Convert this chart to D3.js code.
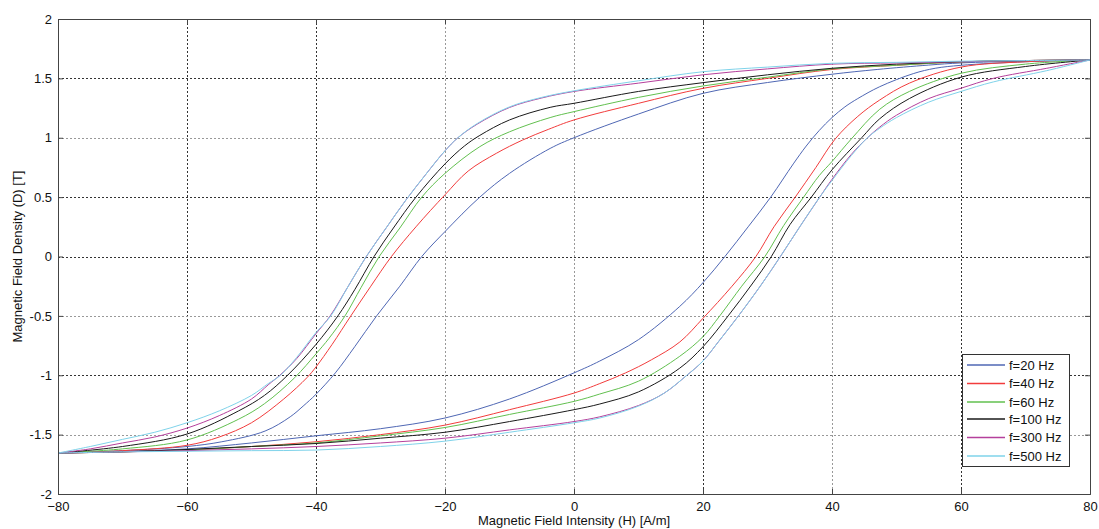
<!DOCTYPE html>
<html>
<head>
<meta charset="utf-8">
<script src="https://cdn.jsdelivr.net/npm/d3@7"></script>
<style>
  body { margin: 0; background: #fff; }
  svg { display: block; font-family: "Liberation Sans", Arial, sans-serif; }
</style>
</head>
<body>
<svg id="chart" width="1099" height="529"></svg>
<script>
// ---- Data ----
const seriesNames = ["f=20 Hz", "f=40 Hz", "f=60 Hz", "f=100 Hz", "f=300 Hz", "f=500 Hz"];
const xTicks = [-80, -60, -40, -20, 0, 20, 40, 60, 80];
const yTicks = [-2, -1.5, -1, -0.5, 0, 0.5, 1, 1.5, 2];

// upper (descending-field) branches, [H, B]
const upper20 = [[80,1.655],[70,1.645],[60,1.63],[55,1.612],[47,1.575],[40,1.535],[30,1.465],[20,1.374],[10,1.2],[0,1.0],[-3.7,0.91],[-10,0.7],[-14.6,0.5],[-20,0.21],[-23.6,0.0],[-27,-0.25],[-30.6,-0.5],[-34,-0.76],[-37,-0.98],[-40,-1.16],[-42,-1.26],[-44,-1.35],[-47.9,-1.47],[-54.6,-1.56],[-60,-1.6],[-70,-1.635],[-80,-1.655]];
const upper40 = [[80,1.655],[70,1.65],[60,1.64],[50,1.61],[40,1.575],[30,1.5],[20,1.416],[10,1.29],[0,1.15],[-4,1.07],[-8,0.98],[-12,0.87],[-16.4,0.72],[-20,0.52],[-24.5,0.25],[-28.3,0.0],[-31.5,-0.25],[-34.6,-0.5],[-37.5,-0.74],[-40,-0.93],[-41.4,-1.02],[-45,-1.2],[-50,-1.4],[-55,-1.52],[-60,-1.59],[-70,-1.635],[-80,-1.655]];
const upper60 = [[80,1.655],[70,1.65],[60,1.64],[50,1.61],[40,1.58],[30,1.51],[20,1.436],[10,1.34],[0,1.22],[-3.7,1.17],[-10,1.05],[-14.6,0.925],[-20,0.70],[-23.6,0.5],[-27,0.24],[-30.2,0.0],[-33,-0.26],[-35.5,-0.5],[-38,-0.69],[-40,-0.82],[-43.3,-1.02],[-48,-1.24],[-52,-1.37],[-60,-1.545],[-70,-1.62],[-80,-1.655]];
const upper100 = [[80,1.655],[70,1.65],[60,1.64],[50,1.62],[40,1.585],[30,1.53],[20,1.464],[10,1.39],[0,1.29],[-3.7,1.256],[-10,1.15],[-14.6,1.02],[-17,0.93],[-20,0.78],[-24.5,0.5],[-28,0.24],[-31,0.0],[-34,-0.28],[-36.6,-0.5],[-40,-0.74],[-44.4,-1.0],[-48,-1.17],[-52,-1.3],[-60,-1.495],[-70,-1.6],[-80,-1.655]];
const upper300 = [[80,1.655],[70,1.65],[60,1.64],[50,1.63],[40,1.62],[30,1.58],[20,1.53],[10,1.46],[0,1.39],[-5,1.335],[-10,1.255],[-15,1.115],[-18,1.0],[-20,0.89],[-23,0.69],[-26,0.48],[-29,0.25],[-32.2,0.0],[-35,-0.25],[-37.8,-0.5],[-40,-0.65],[-43,-0.86],[-45.6,-1.0],[-47.4,-1.08],[-50,-1.2],[-55,-1.34],[-60,-1.445],[-65,-1.52],[-70,-1.57],[-75,-1.62],[-80,-1.655]];
const upper500 = [[80,1.655],[70,1.65],[60,1.645],[50,1.635],[40,1.627],[30,1.595],[20,1.556],[10,1.48],[0,1.395],[-5,1.34],[-10,1.26],[-15,1.12],[-18,1.0],[-20,0.89],[-23,0.69],[-26,0.48],[-29,0.25],[-32.2,0.0],[-35,-0.25],[-37.7,-0.5],[-40,-0.64],[-43,-0.85],[-45.5,-1.0],[-47.4,-1.07],[-50,-1.17],[-55,-1.3],[-60,-1.4],[-65,-1.48],[-70,-1.54],[-75,-1.6],[-80,-1.655]];

// lower (ascending-field) branches, [H, B]
const lower20 = [[-80,-1.655],[-70,-1.64],[-60,-1.62],[-50,-1.57],[-40,-1.51],[-30,-1.45],[-20,-1.36],[-10,-1.2],[0,-0.98],[4,-0.88],[10,-0.7],[16.4,-0.42],[20,-0.22],[23.4,0.0],[27,0.25],[30.5,0.5],[34,0.78],[36,0.93],[38,1.06],[40,1.17],[42,1.26],[44,1.33],[47.4,1.43],[52.6,1.54],[56,1.585],[60,1.61],[70,1.64],[80,1.655]];
const lower40 = [[-80,-1.655],[-70,-1.645],[-60,-1.63],[-50,-1.6],[-40,-1.56],[-30,-1.5],[-20,-1.42],[-10,-1.29],[0,-1.15],[4,-1.07],[8,-0.98],[12,-0.87],[16.4,-0.72],[20,-0.52],[24.5,-0.25],[28.2,0.0],[31,0.25],[34.3,0.5],[37.5,0.75],[40.5,0.99],[44,1.18],[47.4,1.318],[52,1.46],[60,1.595],[70,1.64],[80,1.655]];
const lower60 = [[-80,-1.655],[-70,-1.645],[-60,-1.63],[-50,-1.6],[-40,-1.57],[-30,-1.51],[-20,-1.44],[-10,-1.33],[0,-1.22],[4,-1.158],[10,-1.05],[16.4,-0.84],[20,-0.675],[22.6,-0.5],[26,-0.25],[29.6,0.0],[32.5,0.26],[35.6,0.5],[38,0.68],[40,0.8],[43,0.99],[47.4,1.24],[52,1.39],[60,1.543],[70,1.62],[80,1.655]];
const lower100 = [[-80,-1.655],[-70,-1.645],[-60,-1.625],[-50,-1.6],[-40,-1.575],[-30,-1.53],[-20,-1.48],[-10,-1.39],[0,-1.29],[4,-1.242],[10,-1.14],[16.4,-0.94],[20,-0.76],[23.9,-0.5],[27.5,-0.24],[30.6,0.0],[33.5,0.27],[36.8,0.5],[40,0.73],[44.6,1.0],[47.4,1.16],[52,1.33],[60,1.51],[70,1.6],[80,1.655]];
const lower300 = [[-80,-1.655],[-70,-1.645],[-60,-1.635],[-50,-1.62],[-40,-1.6],[-30,-1.57],[-20,-1.53],[-10,-1.46],[0,-1.39],[4,-1.35],[10,-1.255],[14,-1.15],[17.5,-1.0],[20,-0.88],[22.5,-0.71],[25.5,-0.5],[29,-0.24],[32,0.0],[35,0.25],[38.1,0.5],[40,0.65],[43,0.86],[45.5,1.0],[47.4,1.09],[50,1.19],[55,1.33],[60,1.417],[65,1.5],[73.3,1.585],[80,1.655]];
const lower500 = [[-80,-1.655],[-70,-1.645],[-60,-1.64],[-50,-1.635],[-40,-1.63],[-30,-1.6],[-20,-1.555],[-10,-1.48],[0,-1.4],[4,-1.36],[10,-1.26],[14,-1.15],[17.5,-1.0],[20,-0.88],[22.5,-0.71],[25.5,-0.5],[29,-0.24],[32,0.0],[35,0.25],[38.1,0.5],[40,0.64],[43,0.85],[45.5,1.0],[47.4,1.08],[50,1.17],[55,1.3],[60,1.39],[65,1.47],[73.3,1.565],[80,1.655]];

const upperBranches = [upper20, upper40, upper60, upper100, upper300, upper500];
const lowerBranches = [lower20, lower40, lower60, lower100, lower300, lower500];
const seriesColors = ["#4f67b4", "#f23c3c", "#62c04f", "#1a1a1a", "#b5409c", "#7fd3ea"];

// ---- Layout ----
const margin = { left: 58, right: 1099 - 1090, top: 19, bottom: 529 - 494 };
const W = 1099, H = 529;
const svg = d3.select("#chart");
const pw = W - margin.left - margin.right;
const ph = H - margin.top - margin.bottom;

const x = d3.scaleLinear().domain([-80, 80]).range([margin.left, margin.left + pw]);
const y = d3.scaleLinear().domain([-2, 2]).range([margin.top + ph, margin.top]);

// gridlines (shade alternates as in the reference)
const darkX = new Set([-60, -40, 20, 60]);
const darkY = new Set([1.5, 0.5, 0, -1]);
const grid = svg.append("g");
xTicks.filter(t => t > -80 && t < 80).forEach(t => {
  grid.append("line")
    .attr("x1", x(t) + 0.5).attr("x2", x(t) + 0.5)
    .attr("y1", y(2)).attr("y2", y(-2))
    .attr("stroke", darkX.has(t) ? "#333" : "#999")
    .attr("stroke-width", 1)
    .attr("stroke-dasharray", "2,2");
});
yTicks.filter(t => t > -2 && t < 2).forEach(t => {
  grid.append("line")
    .attr("x1", x(-80)).attr("x2", x(80))
    .attr("y1", Math.round(y(t)) + 0.5).attr("y2", Math.round(y(t)) + 0.5)
    .attr("stroke", darkY.has(t) ? "#333" : "#999")
    .attr("stroke-width", 1)
    .attr("stroke-dasharray", "2,2");
});

// curves
const line = d3.line()
  .x(d => x(d[0])).y(d => y(d[1]))
  .curve(d3.curveCatmullRom.alpha(0.5));
const curves = svg.append("g");
seriesNames.forEach((name, i) => {
  const up = upperBranches[i].slice().sort((a, b) => a[0] - b[0]);
  const lo = lowerBranches[i].slice().sort((a, b) => a[0] - b[0]);
  [up, lo].forEach(br => {
    curves.append("path")
      .attr("d", line(br))
      .attr("fill", "none")
      .attr("stroke", seriesColors[i])
      .attr("stroke-width", 1);
  });
});

// axes
const axisColor = "#444";
const xAxis = d3.axisBottom(x).tickValues(xTicks).tickSize(-5).tickPadding(8).tickFormat(d3.format("d"));
const yAxis = d3.axisLeft(y).tickValues(yTicks).tickSize(-5).tickPadding(6).tickFormat(d => String(d));
const gx = svg.append("g").attr("transform", `translate(0,${y(-2)})`).call(xAxis);
const gy = svg.append("g").attr("transform", `translate(${x(-80)},0)`).call(yAxis);
// top / right ticks
const gx2 = svg.append("g").attr("transform", `translate(0,${y(2)})`).call(d3.axisTop(x).tickValues(xTicks).tickSize(-5).tickFormat(""));
const gy2 = svg.append("g").attr("transform", `translate(${x(80)},0)`).call(d3.axisRight(y).tickValues(yTicks).tickSize(-5).tickFormat(""));
[gx, gy, gx2, gy2].forEach(g => {
  g.selectAll("path.domain").attr("stroke", axisColor);
  g.selectAll(".tick line").attr("stroke", axisColor);
  g.selectAll("text").attr("font-size", 13).attr("fill", "#111")
    .attr("font-family", "'Liberation Sans', Arial, sans-serif");
});

// axis titles
svg.append("text")
  .attr("x", x(0)).attr("y", 525)
  .attr("text-anchor", "middle")
  .attr("font-size", 13).attr("fill", "#111")
  .text("Magnetic Field Intensity (H) [A/m]");
svg.append("text")
  .attr("transform", `translate(22,${y(0)}) rotate(-90)`)
  .attr("text-anchor", "middle")
  .attr("font-size", 13).attr("fill", "#111")
  .text("Magnetic Field Density (D) [T]");

// legend
const lg = svg.append("g").attr("transform", "translate(962,354)");
lg.append("rect").attr("x", 0.5).attr("y", 0.5).attr("width", 107).attr("height", 112)
  .attr("fill", "#fff").attr("stroke", "#333");
const rowY = [11, 29.5, 48, 65, 83.5, 102];
seriesNames.forEach((name, i) => {
  lg.append("line").attr("x1", 5).attr("x2", 43).attr("y1", rowY[i]).attr("y2", rowY[i])
    .attr("stroke", seriesColors[i]).attr("stroke-width", 1.5);
  lg.append("text").attr("x", 47).attr("y", rowY[i] + 4.5)
    .attr("font-size", 13).attr("fill", "#111").text(name);
});
</script>
</body>
</html>
